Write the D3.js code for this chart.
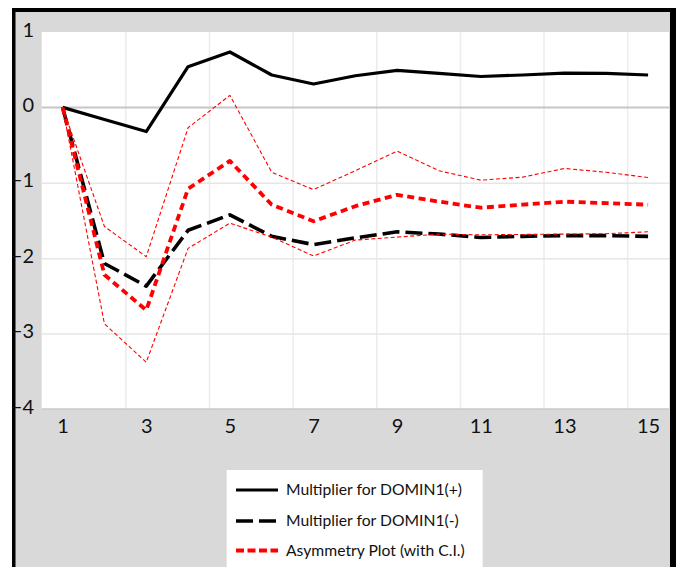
<!DOCTYPE html>
<html>
<head>
<meta charset="utf-8">
<script src="https://cdn.jsdelivr.net/npm/d3@7"></script>
<style>
  html, body { margin: 0; padding: 0; background: #ffffff; }
  svg { display: block; }
  text { font-family: Lato, "Open Sans", sans-serif; fill: #111111; }
</style>
</head>
<body>
<svg id="chart" width="676" height="567"></svg>
<script>
// ---- data ----
const periods = [1, 2, 3, 4, 5, 6, 7, 8, 9, 10, 11, 12, 13, 14, 15];
const positiveMult = [0, -0.16, -0.32, 0.54, 0.735, 0.43, 0.31, 0.42, 0.49, 0.45, 0.41, 0.43, 0.455, 0.45, 0.43];
const negativeMult = [0, -2.07, -2.37, -1.63, -1.425, -1.71, -1.82, -1.73, -1.65, -1.68, -1.725, -1.71, -1.70, -1.70, -1.71];
const asymmetry   = [0, -2.22, -2.69, -1.08, -0.71, -1.29, -1.51, -1.31, -1.16, -1.25, -1.33, -1.29, -1.25, -1.27, -1.29];
const upperCI     = [0, -1.58, -1.98, -0.27, 0.16, -0.86, -1.09, -0.84, -0.58, -0.84, -0.965, -0.925, -0.81, -0.86, -0.93];
const lowerCI     = [0, -2.87, -3.38, -1.87, -1.535, -1.72, -1.97, -1.76, -1.72, -1.68, -1.69, -1.685, -1.68, -1.675, -1.65];
const xTickLabels = [1, 3, 5, 7, 9, 11, 13, 15];
const yTickLabels = [1, 0, -1, -2, -3, -4];
const legendLabels = ["Multiplier for DOMIN1(+)", "Multiplier for DOMIN1(-)", "Asymmetry Plot (with C.I.)"];

const svg = d3.select("#chart");

// ---- frame ----
svg.append("rect").attr("x", 12).attr("y", 8).attr("width", 664).attr("height", 570).attr("fill", "#d9d9d9");
svg.append("rect").attr("x", 12).attr("y", 8).attr("width", 3.5).attr("height", 570).attr("fill", "#000");
svg.append("rect").attr("x", 12).attr("y", 8).attr("width", 664).attr("height", 4).attr("fill", "#000");
svg.append("rect").attr("x", 670).attr("y", 8).attr("width", 6).attr("height", 570).attr("fill", "#000");

// ---- plot area ----
const plot = { left: 41.7, right: 669, top: 32, bottom: 409 };
const x = d3.scaleLinear().domain([0.5, 15.5]).range([plot.left, plot.right]);
const y = d3.scaleLinear().domain([-4, 1]).range([plot.bottom, plot.top]);

svg.append("rect")
  .attr("x", plot.left).attr("y", plot.top)
  .attr("width", plot.right - plot.left).attr("height", plot.bottom - plot.top)
  .attr("fill", "#ffffff");

// vertical gridlines (between categories, every 2)
const vGrid = d3.range(2.5, 15, 2);
svg.append("g")
  .attr("transform", `translate(0,${plot.bottom})`)
  .call(d3.axisBottom(x).tickValues(vGrid).tickSize(-(plot.bottom - plot.top)).tickFormat(""))
  .call(g => g.select(".domain").remove())
  .call(g => g.selectAll("line").attr("stroke", "#ececec").attr("stroke-width", 1.5));

// horizontal gridlines
svg.append("g")
  .attr("transform", `translate(${plot.left},0)`)
  .call(d3.axisLeft(y).tickValues([-1, -2, -3]).tickSize(-(plot.right - plot.left)).tickFormat(""))
  .call(g => g.select(".domain").remove())
  .call(g => g.selectAll("line").attr("stroke", "#e6e6e6").attr("stroke-width", 1.5));

// bottom edge and zero line
svg.append("line").attr("x1", plot.left).attr("x2", plot.right)
  .attr("y1", y(-4)).attr("y2", y(-4)).attr("stroke", "#c8c8c8").attr("stroke-width", 1.5);
svg.append("line").attr("x1", plot.left).attr("x2", plot.right)
  .attr("y1", y(0)).attr("y2", y(0)).attr("stroke", "#c6c6c6").attr("stroke-width", 2);

// y tick labels
svg.append("g")
  .attr("transform", `translate(34,0)`)
  .call(d3.axisLeft(y).tickValues(yTickLabels).tickSize(0).tickPadding(0).tickFormat(d3.format("d")))
  .call(g => g.select(".domain").remove())
  .call(g => g.selectAll("text")
      .attr("font-size", 20).attr("fill", "#111111")
      .attr("font-family", "Lato, sans-serif")
      .attr("dy", "0.2em"));

// x tick labels
svg.append("g")
  .attr("transform", `translate(0,${plot.bottom})`)
  .call(d3.axisBottom(x).tickValues(xTickLabels).tickSize(0).tickPadding(10).tickFormat(d3.format("d")))
  .call(g => g.select(".domain").remove())
  .call(g => g.selectAll("text")
      .attr("font-size", 20).attr("fill", "#111111")
      .attr("font-family", "Lato, sans-serif"));

// ---- series ----
const line = d3.line().x((d, i) => x(periods[i])).y(d => y(d));

const series = [
  { data: positiveMult, color: "#000000", width: 3.2, dash: null },
  { data: negativeMult, color: "#000000", width: 3.6, dash: "17,6" },
  { data: asymmetry,    color: "#ff0000", width: 3.8, dash: "7,4.5" },
  { data: upperCI,      color: "#ff0000", width: 1.1, dash: "4,2.5" },
  { data: lowerCI,      color: "#ff0000", width: 1.1, dash: "4,2.5" }
];

series.forEach(s => {
  svg.append("path")
    .datum(s.data)
    .attr("d", line)
    .attr("fill", "none")
    .attr("stroke", s.color)
    .attr("stroke-width", s.width)
    .attr("stroke-linejoin", "round")
    .attr("stroke-dasharray", s.dash);
});

// ---- legend ----
const legend = svg.append("g");
legend.append("rect").attr("x", 226.7).attr("y", 470).attr("width", 256).attr("height", 110).attr("fill", "#ffffff");
const legendStyles = [
  { color: "#000000", width: 3.2, dash: null },
  { color: "#000000", width: 3.6, dash: "17,6" },
  { color: "#ff0000", width: 3.8, dash: "8,3.5" }
];
const legendY = [490, 521, 550.5];
legendLabels.forEach((lbl, i) => {
  legend.append("line")
    .attr("x1", 236).attr("x2", 278)
    .attr("y1", legendY[i]).attr("y2", legendY[i])
    .attr("stroke", legendStyles[i].color)
    .attr("stroke-width", legendStyles[i].width)
    .attr("stroke-dasharray", legendStyles[i].dash);
  legend.append("text")
    .attr("x", 286).attr("y", legendY[i])
    .attr("dy", "0.35em")
    .attr("font-size", 15.7)
    .text(lbl);
});
</script>
</body>
</html>
